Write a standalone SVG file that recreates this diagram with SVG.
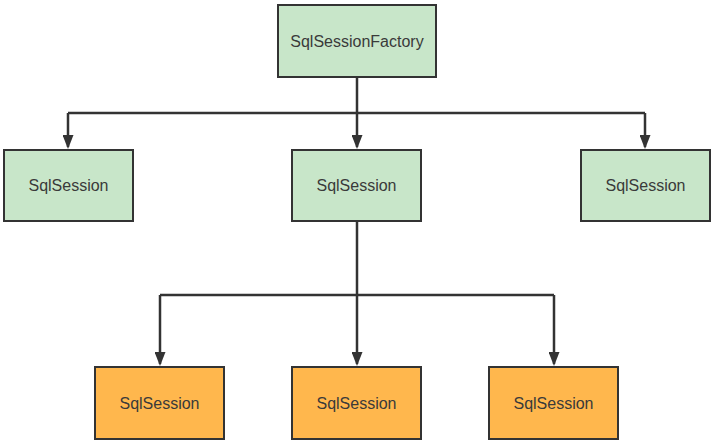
<svg xmlns="http://www.w3.org/2000/svg" width="714" height="445" viewBox="0 0 714 445">
<style>
.n rect{stroke:#333;stroke-width:2}
.g rect{fill:#c8e6c9}
.o rect{fill:#ffb74d}
.n text{font-family:"Liberation Sans",Arial,sans-serif;font-size:16px;fill:#3a3a3a;text-anchor:middle;dominant-baseline:central}
.c path{fill:none;stroke:#333;stroke-width:2.5}
</style>
<defs>
<marker id="a" markerWidth="14" markerHeight="11" refX="12" refY="5.5" orient="auto" markerUnits="userSpaceOnUse" viewBox="0 0 14 11">
<path d="M0,0 L14,5.5 L0,11 Z" fill="#333"/>
</marker>
</defs>
<rect width="714" height="445" fill="#fff"/>
<g class="c">
<path d="M357,77 V113"/>
<path d="M68,113 H645"/>
<path d="M68,113 V147" marker-end="url(#a)"/>
<path d="M357,113 V147" marker-end="url(#a)"/>
<path d="M645,113 V147" marker-end="url(#a)"/>
<path d="M357,221 V295"/>
<path d="M160,295 H554"/>
<path d="M160,295 V364" marker-end="url(#a)"/>
<path d="M357,295 V364" marker-end="url(#a)"/>
<path d="M554,295 V364" marker-end="url(#a)"/>
</g>
<g id="factory" class="n g"><rect x="278" y="5" width="158" height="72"/><text x="357" y="41">SqlSessionFactory</text></g>
<g id="s1" class="n g"><rect x="4" y="150" width="129" height="71"/><text x="68.5" y="185.5">SqlSession</text></g>
<g id="s2" class="n g"><rect x="292" y="150" width="129" height="71"/><text x="356.5" y="185.5">SqlSession</text></g>
<g id="s3" class="n g"><rect x="581" y="150" width="129" height="71"/><text x="645.5" y="185.5">SqlSession</text></g>
<g id="s4" class="n o"><rect x="95" y="367" width="129" height="72"/><text x="159.5" y="403">SqlSession</text></g>
<g id="s5" class="n o"><rect x="292" y="367" width="129" height="72"/><text x="356.5" y="403">SqlSession</text></g>
<g id="s6" class="n o"><rect x="489" y="367" width="129" height="72"/><text x="553.5" y="403">SqlSession</text></g>
</svg>
